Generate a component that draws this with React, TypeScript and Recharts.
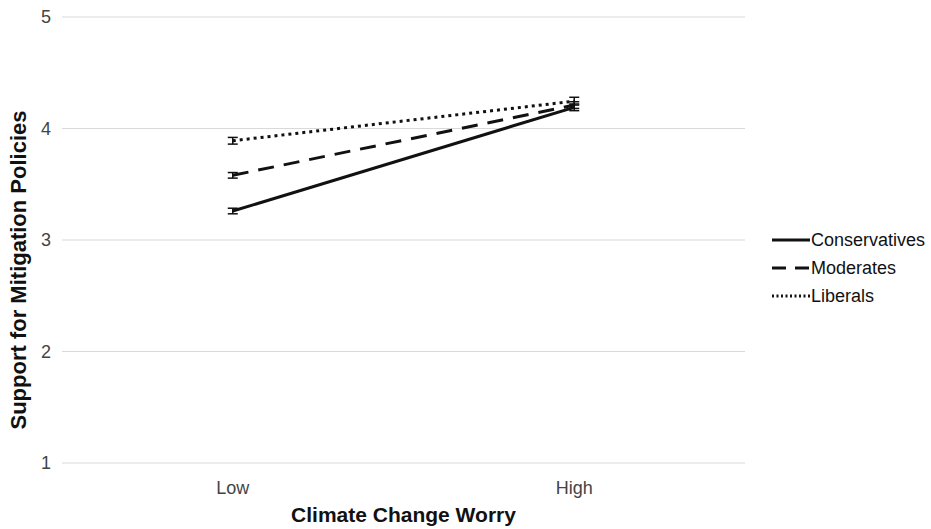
import React from 'react';
import { LineChart, Line, XAxis, YAxis, CartesianGrid, Legend, ErrorBar } from 'recharts';

const categories = ['Low', 'High'];
const conservatives = [3.26, 4.19];
const moderates = [3.58, 4.21];
const liberals = [3.89, 4.245];
const conservativesErr = [0.025, 0.03];
const moderatesErr = [0.025, 0.03];
const liberalsErr = [0.03, 0.035];
const yTicks = [1, 2, 3, 4, 5];

const data = categories.map((c, i) => ({
  cat: c,
  cons: conservatives[i],
  consErr: conservativesErr[i],
  mod: moderates[i],
  modErr: moderatesErr[i],
  lib: liberals[i],
  libErr: liberalsErr[i],
}));

const FONT = '"Liberation Sans", Arial, sans-serif';

const legendItems = [
  { name: 'Conservatives', dash: undefined as string | undefined },
  { name: 'Moderates', dash: '14 9' },
  { name: 'Liberals', dash: '2 2.5' },
];

const LegendContent = () => (
  <div style={{ fontFamily: FONT, fontSize: 18, color: '#111', width: 160 }}>
    {legendItems.map((it) => (
      <div key={it.name} style={{ display: 'flex', alignItems: 'center', height: 28 }}>
        <svg width={39} height={10} style={{ display: 'block' }}>
          <line x1={1} y1={5} x2={39} y2={5} stroke="#111" strokeWidth={3} strokeDasharray={it.dash} />
        </svg>
        <span style={{ marginLeft: 1 }}>{it.name}</span>
      </div>
    ))}
  </div>
);

export default function App() {
  return (
    <div style={{ position: 'absolute', left: 0, top: 0, background: '#fff' }}>
      <LineChart width={931} height={529} data={data} margin={{ top: 17, right: 26, bottom: 0, left: 0 }}>
        <CartesianGrid vertical={false} stroke="#d9d9d9" strokeWidth={1} />
        <XAxis
          dataKey="cat"
          scale="band"
          height={66}
          axisLine={false}
          tickLine={false}
          tick={{ fontFamily: FONT, fontSize: 18, fill: '#444' }}
          tickMargin={12}
          label={{
            value: 'Climate Change Worry',
            position: 'insideBottom',
            offset: 7,
            style: { fontFamily: FONT, fontSize: 21, fontWeight: 'bold', fill: '#111' },
          }}
        />
        <YAxis
          width={62}
          domain={[1, 5]}
          ticks={yTicks}
          axisLine={false}
          tickLine={false}
          tick={{ fontFamily: FONT, fontSize: 18, fill: '#444' }}
          tickMargin={5}
          label={{
            content: () => (
              <text
                x={26}
                y={270}
                transform="rotate(-90 26 270)"
                textAnchor="middle"
                style={{ fontFamily: FONT, fontSize: 22, fontWeight: 'bold', fill: '#111' }}
              >
                Support for Mitigation Policies
              </text>
            ),
          }}
        />
        <Legend
          layout="vertical"
          verticalAlign="top"
          align="right"
          content={<LegendContent />}
          wrapperStyle={{ left: 771, top: 226, width: 160 }}
        />
        <Line type="linear" dataKey="cons" name="Conservatives" stroke="#111" strokeWidth={3} dot={false} isAnimationActive={false}>
          <ErrorBar dataKey="consErr" width={5} stroke="#111" strokeWidth={1.5} direction="y" />
        </Line>
        <Line type="linear" dataKey="mod" name="Moderates" stroke="#111" strokeWidth={3} strokeDasharray="16 10" dot={false} isAnimationActive={false}>
          <ErrorBar dataKey="modErr" width={5} stroke="#111" strokeWidth={1.5} direction="y" />
        </Line>
        <Line type="linear" dataKey="lib" name="Liberals" stroke="#111" strokeWidth={3} strokeDasharray="3 4" dot={false} isAnimationActive={false}>
          <ErrorBar dataKey="libErr" width={5} stroke="#111" strokeWidth={1.5} direction="y" />
        </Line>
      </LineChart>
    </div>
  );
}
